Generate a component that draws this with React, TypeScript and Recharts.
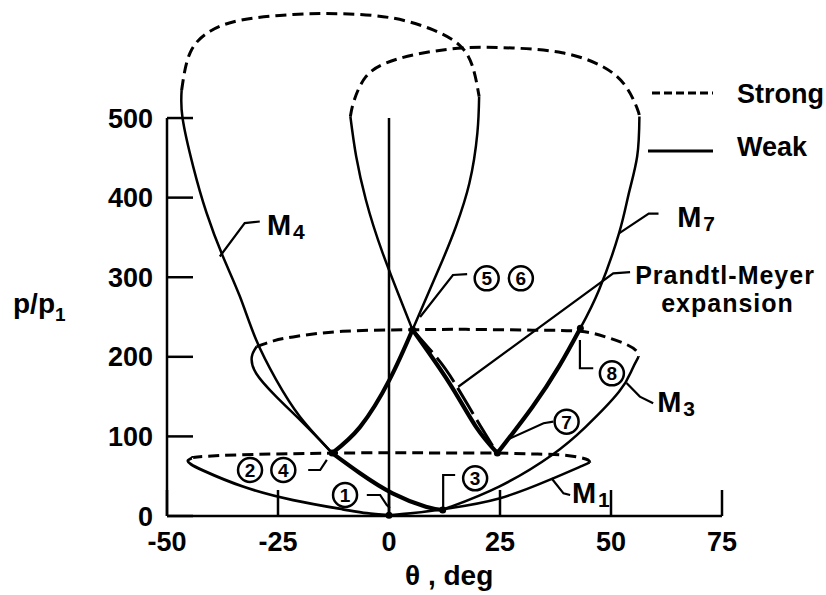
import React from "react"
import { ComposedChart, Line, XAxis, YAxis, ReferenceLine, ReferenceDot, Legend, Label } from "recharts"

const FONT = '"Liberation Sans", Arial, Helvetica, sans-serif'

// axis ticks
const xTicks = [-50, -25, 0, 25, 50, 75]
const yTicks = [0, 100, 200, 300, 400, 500]

// shock polars, [theta deg, p/p1]
const m1WeakLeft = [[0, 1], [-5, 3.5], [-10.4, 8.4], [-21.6, 20], [-32.9, 37], [-41.8, 57], [-44.6, 65], [-45.3, 69.5], [-44.4, 72.5]]
const m1Strong = [[-44.4, 72.5], [-42.6, 74.5], [-32.9, 77], [-22, 78.3], [-12.8, 79], [0, 79.5], [12, 79.2], [24.4, 79], [32, 78], [38.3, 77], [42.5, 74], [44.8, 70.5], [45.2, 67]]
const m1WeakRight = [[45.2, 67], [43.5, 63], [36, 45], [24.8, 22], [13.6, 9.7], [6, 4], [0, 1]]

const m3Path = [[12.1, 7.5], [8.3, 11.7], [0.8, 28.5], [-6.6, 54], [-12.8, 79]]
const m3WeakLeft = [[-12.8, 79], [-15.6, 95.5], [-20.1, 121], [-25.4, 150], [-29.9, 179], [-30.9, 200], [-29.8, 213]]
const m3Strong = [[-29.8, 213], [-26, 220], [-21.6, 225], [-10.4, 232], [5.3, 234], [17.3, 234.5], [32.3, 233.5], [43.1, 232], [48.8, 225], [53.3, 216], [55.8, 207], [56.2, 200]]
const m3WeakRight = [[56.2, 200], [54.7, 183.5], [51.8, 156], [44.3, 112], [36.8, 77], [24.8, 37], [13.6, 11], [12.1, 7.5]]

const m4WeakLeft = [[-12.8, 79], [-20.1, 125], [-25.4, 171], [-29.9, 221], [-33.6, 276], [-37.4, 326], [-41.1, 381], [-44.1, 439], [-46.5, 500], [-46.7, 535]]
const m4Strong = [[-46.7, 535], [-44.8, 582], [-40.3, 609], [-32.9, 623.5], [-21.6, 630], [-10.4, 631], [0.8, 625.6], [9.8, 611], [15.8, 592], [18.8, 565], [20.3, 527]]
const m4WeakRight = [[20.3, 527], [19.9, 481], [18.1, 418], [15.1, 364], [12.1, 322], [5.3, 234]]
const m4Path = [[5.3, 234], [0.1, 171], [-6.5, 112], [-12.8, 79]]

const m7Path = [[24.4, 79], [19.6, 112], [13.6, 167], [5.3, 234]]
const m7WeakLeft = [[5.3, 234], [-1.4, 330], [-5.2, 397], [-7.4, 452], [-8.7, 502]]
const m7Strong = [[-8.7, 502], [-7.8, 523], [-5.2, 552], [-0.7, 569], [6.1, 580], [16.6, 588], [27.8, 588], [39, 582], [48, 565], [53.3, 540], [55.9, 512], [56.4, 502]]
const m7WeakRight = [[56.4, 502], [55.9, 452], [54, 405], [51.8, 355], [47.3, 284], [43.1, 236]]
const m7Path2 = [[43.1, 236], [38.3, 188], [32.3, 137], [24.4, 79]]

const prandtlMeyer = [[5.3, 234], [10.9, 198], [14.8, 167], [20.6, 113], [24.4, 79]]

// flow states 1..8
const states = [[0, 1], [12.1, 7.5], [-12.8, 79], [5.3, 234], [24.4, 79], [43.1, 236]]

// annotations
const leaders = [
  [[-38.1, 326], [-32.5, 368], [-29.1, 370]],
  [[51.8, 355], [58.5, 380], [60.7, 380]],
  [[53.5, 167], [56.5, 150], [59.5, 141.6]],
  [[36.6, 47.4], [39.3, 28.5], [40.8, 26.4]],
  [[15.6, 162.4], [50.5, 304.9], [54.3, 306.5]],
  [[7.0, 250], [14.4, 302.8], [17.6, 304]],
  [[-18.2, 57.8], [-15.5, 57.8], [-14.0, 70.4]],
  [[-5.0, 26.4], [-2.0, 26.4], [-0.5, 13.8], [0.2, 10]],
  [[12.2, 10], [12.2, 51.5], [14.9, 51.5]],
  [[26.5, 95.5], [34.8, 116.5], [37.0, 118.5]],
  [[43.0, 221], [43.0, 185.6], [46.0, 185.6]],
]
const circled = [
  { n: "1", x: -9.9, y: 26.4 },
  { n: "2", x: -31.3, y: 57.8 },
  { n: "4", x: -23.8, y: 57.8 },
  { n: "3", x: 19.4, y: 47.4 },
  { n: "5", x: 22.0, y: 298.6 },
  { n: "6", x: 29.7, y: 298.6 },
  { n: "7", x: 40.0, y: 118.5 },
  { n: "8", x: 50.2, y: 179.3 },
]
const machLabels = [
  { sub: "4", x: -27.5, y: 353 },
  { sub: "7", x: 64.9, y: 363 },
  { sub: "3", x: 60.4, y: 130.7 },
  { sub: "1", x: 41.2, y: 16.3 },
]
const pmNote = { lines: ["Prandtl-Meyer", "expansion"], x: 55.0, y: 292 }

const pts = (a: number[][]) => a.map(([x, y]) => ({ x, y }))

const curve = (key: string, d: number[][], w: number, dash?: string, type: any = "natural") => (
  <Line
    key={key}
    data={pts(d)}
    dataKey="y"
    type={type}
    stroke="#000"
    strokeWidth={w}
    strokeDasharray={dash}
    strokeLinecap="butt"
    dot={false}
    activeDot={false}
    legendType="none"
    isAnimationActive={false}
  />
)

const tickStyle = { fill: "#000", fontSize: 27, fontWeight: "bold", fontFamily: FONT }

export default function App() {
  return (
    <div style={{ position: "absolute", left: 0, top: 0, background: "#fff" }}>
      <ComposedChart width={826} height={595} margin={{ top: 6.6, right: 104, bottom: 49, left: 107 }}>
        <XAxis
          type="number"
          dataKey="x"
          domain={[-50, 75]}
          ticks={xTicks}
          interval={0}
          allowDataOverflow
          height={30}
          tickSize={-26}
          tickMargin={42}
          axisLine={{ stroke: "#000", strokeWidth: 2.5 }}
          tickLine={{ stroke: "#000", strokeWidth: 2.5 }}
          tick={tickStyle}
        >
          <Label
            content={(props: any) => {
              const vb = props.viewBox || { x: 167, y: 516 }
              return (
                <text x={vb.x + 238} y={vb.y + 69} fill="#000" fontSize={28} fontWeight="bold" fontFamily={FONT}>
                  θ , deg
                </text>
              )
            }}
          />
        </XAxis>
        <YAxis
          type="number"
          domain={[0, 640]}
          ticks={yTicks}
          interval={0}
          allowDataOverflow
          width={60}
          tickSize={-26}
          tickMargin={40}
          axisLine={false}
          tickLine={{ stroke: "#000", strokeWidth: 2.5 }}
          tick={tickStyle}
        >
          <Label
            content={(props: any) => {
              const vb = props.viewBox || { x: 107, y: 6.6 }
              return (
                <text x={vb.x - 94} y={vb.y + 306} fill="#000" fontSize={28} fontWeight="bold" fontFamily={FONT}>
                  p/p<tspan fontSize={19} dy={8}>1</tspan>
                </text>
              )
            }}
          />
        </YAxis>

        <ReferenceLine segment={[{ x: -50, y: 0 }, { x: -50, y: 500 }]} stroke="#000" strokeWidth={2.5} />
        <ReferenceLine segment={[{ x: 0, y: 0 }, { x: 0, y: 500 }]} stroke="#000" strokeWidth={2.5} />

        {curve("m1wl", m1WeakLeft, 2.8)}
        {curve("m1s", m1Strong, 3, "11 6")}
        {curve("m1wr", m1WeakRight, 2.5)}

        {curve("m3p", m3Path, 4.2)}
        {curve("m3wl", m3WeakLeft, 2.5)}
        {curve("m3s", m3Strong, 3, "11 6")}
        {curve("m3wr", m3WeakRight, 2.5)}

        {curve("m4wl", m4WeakLeft, 2.5)}
        {curve("m4s", m4Strong, 3, "11 6")}
        {curve("m4wr", m4WeakRight, 2.5)}
        {curve("m4p", m4Path, 4.2)}

        {curve("m7p", m7Path, 4.2)}
        {curve("m7wl", m7WeakLeft, 2.5)}
        {curve("m7s", m7Strong, 3, "11 6")}
        {curve("m7wr", m7WeakRight, 2.5)}
        {curve("m7p2", m7Path2, 4.2)}

        {curve("pm", prandtlMeyer, 3, "30 7")}

        {leaders.map((l, i) => curve("ld" + i, l, 2.2, undefined, "linear"))}

        {states.map(([x, y], i) => (
          <ReferenceDot key={"st" + i} x={x} y={y} r={3.5} fill="#000" stroke="none" ifOverflow="visible" />
        ))}

        {circled.map((c) => (
          <ReferenceDot
            key={"c" + c.n}
            x={c.x}
            y={c.y}
            ifOverflow="visible"
            shape={(p: any) => (
              <g>
                <circle cx={p.cx} cy={p.cy} r={12} fill="none" stroke="#000" strokeWidth={2.5} />
                <text x={p.cx} y={p.cy} dy="0.36em" textAnchor="middle" fontSize={19} fontWeight="bold" fontFamily={FONT} fill="#000">
                  {c.n}
                </text>
              </g>
            )}
          />
        ))}

        {machLabels.map((m) => (
          <ReferenceDot
            key={"m" + m.sub}
            x={m.x}
            y={m.y}
            ifOverflow="visible"
            shape={(p: any) => (
              <text x={p.cx} y={p.cy} fontSize={29} fontWeight="bold" fontFamily={FONT} fill="#000">
                M<tspan fontSize={21} dx={2} dy={4}>{m.sub}</tspan>
              </text>
            )}
          />
        ))}

        <ReferenceDot
          x={pmNote.x}
          y={pmNote.y}
          ifOverflow="visible"
          shape={(p: any) => (
            <text x={p.cx} y={p.cy} fontSize={25} fontWeight="bold" fontFamily={FONT} fill="#000" letterSpacing={1}>
              <tspan x={p.cx + 2}>{pmNote.lines[0]}</tspan>
              <tspan x={p.cx + 28} dy={28}>{pmNote.lines[1]}</tspan>
            </text>
          )}
        />

        <Legend
          layout="vertical"
          align="center"
          verticalAlign="middle"
          wrapperStyle={{ left: 648, top: 76, width: 178 }}
          content={() => (
            <svg width={178} height={100}>
              <line x1={4} x2={65} y1={17} y2={17} stroke="#000" strokeWidth={3} strokeDasharray="8 4" />
              <text x={89} y={27} fontSize={27} fontWeight="bold" fontFamily={FONT} fill="#000">Strong</text>
              <line x1={0} x2={65} y1={75} y2={75} stroke="#000" strokeWidth={3} />
              <text x={89} y={80} fontSize={27} fontWeight="bold" fontFamily={FONT} fill="#000">Weak</text>
            </svg>
          )}
        />
      </ComposedChart>
    </div>
  )
}
